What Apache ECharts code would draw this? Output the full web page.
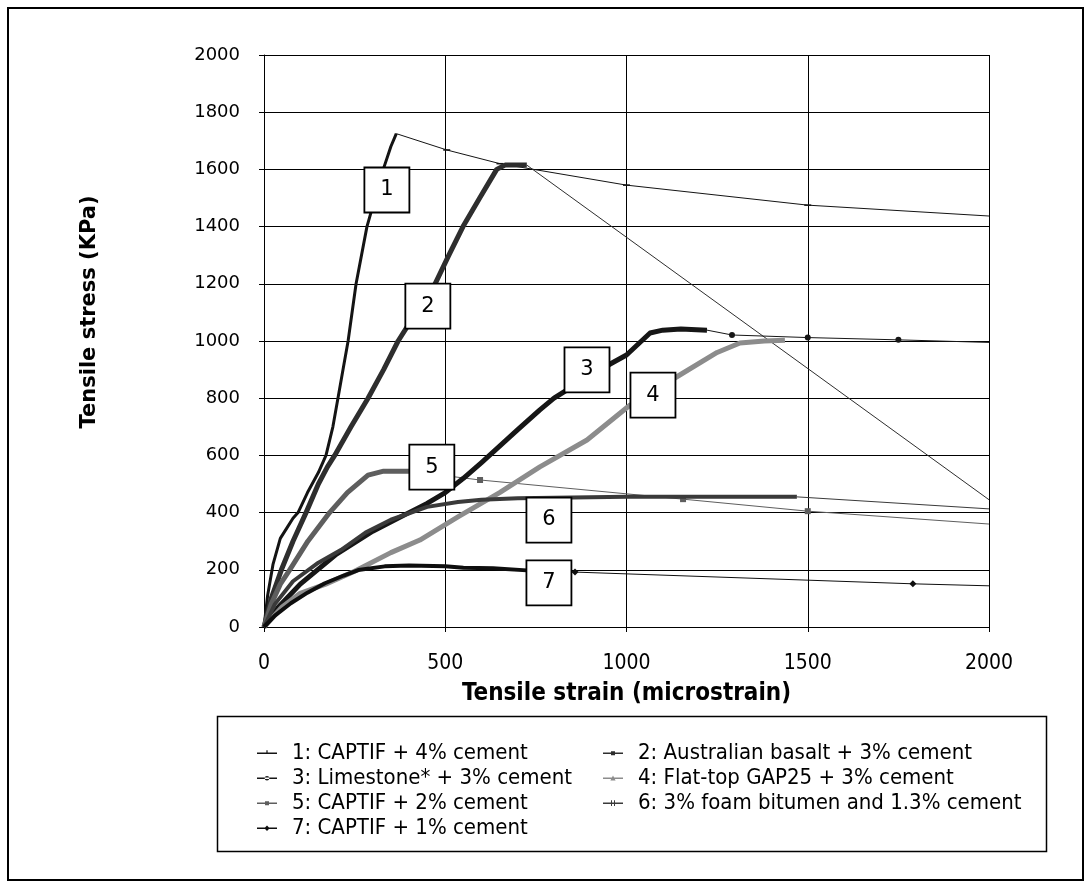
<!DOCTYPE html>
<html>
<head>
<meta charset="utf-8">
<script src="https://cdn.jsdelivr.net/npm/echarts@6/dist/echarts.min.js"></script>
<style>
  html, body { margin: 0; padding: 0; background: #fff; }
  #chart { width: 1090px; height: 887px; }
</style>
</head>
<body>
<div id="chart"></div>
<script>
// Tensile stress-strain curves of stabilised basecourse mixes.
// Each mix: the densely logged loading part and the sparse post-peak part.

const seriesNames = [
  '1: CAPTIF + 4% cement',
  '2: Australian basalt + 3% cement',
  '3: Limestone* + 3% cement',
  '4: Flat-top GAP25 + 3% cement',
  '5: CAPTIF + 2% cement',
  '6: 3% foam bitumen and 1.3% cement',
  '7: CAPTIF + 1% cement'
];
const xTitle = 'Tensile strain (microstrain)';
const yTitle = 'Tensile stress (KPa)';

// [strain (microstrain), stress (kPa)]
const load1 = [[0,0],[10,110],[25,220],[45,310],[65,350],[80,380],[94,400],[120,470],[150,540],[171,600],[190,700],[204,800],[218,900],[232,1000],[254,1200],[284,1400],[329,1600],[350,1680],[365,1725]];
const post1 = [[365,1725],[504,1668],[651,1620],[1000,1545],[1500,1475],[2000,1437]];

const load2 = [[0,0],[20,100],[48,200],[80,300],[116,400],[150,500],[175,560],[195,600],[240,700],[287,800],[330,900],[370,1000],[420,1100],[472,1200],[510,1300],[549,1400],[595,1500],[642,1600],[665,1615],[725,1615]];
const post2 = [[725,1615],[2000,445]];

const load3 = [[0,0],[40,70],[100,150],[200,255],[300,335],[400,400],[450,432],[500,470],[550,520],[600,575],[700,690],[761,759],[800,800],[900,880],[960,923],[1000,951],[1065,1028],[1100,1038],[1150,1042],[1222,1038]];
const post3 = [[1222,1038],[1291,1021],[1500,1012],[1750,1004],[2000,995]];

const load4 = [[0,0],[50,70],[100,118],[170,150],[250,195],[350,260],[430,304],[535,385],[650,470],[761,560],[891,654],[1010,776],[1139,875],[1250,960],[1313,993],[1380,1000],[1437,1003]];

const load5 = [[0,0],[20,80],[45,150],[71,200],[121,300],[181,400],[230,470],[287,531],[330,545],[400,545],[430,540]];
const post5 = [[430,540],[596,514],[1156,447],[1500,405],[2000,360]];

const load6 = [[0,0],[30,80],[80,160],[150,225],[213,270],[280,330],[350,375],[450,420],[535,437],[600,445],[700,450],[1000,455],[1200,455],[1470,455]];
const post6 = [[1470,455],[2000,413]];

const load7 = [[0,0],[30,40],[74,83],[120,120],[168,153],[220,180],[260,199],[333,212],[400,215],[500,212],[550,207],[632,205],[725,198]];
const post7 = [[725,198],[858,192],[1790,151],[2000,144]];

// Numbered callouts placed beside each curve
const calloutNumbers = ['1','2','3','4','5','6','7'];
const calloutAt = [[339,1528],[452,1122],[891,899],[1073,811],[463,559],[786,374],[786,154]];

const xTicks = { min: 0, max: 2000, interval: 500 };
const yTicks = { min: 0, max: 2000, interval: 200 };

const colors = ['#141414','#2e2e2e','#161616','#8c8c8c','#5e5e5e','#3a3a3a','#0e0e0e'];
const loadWidths = [3, 5, 5, 5, 5, 4, 4];
const tailMarkers = [['rect',[7,1.5]], ['rect',5], ['circle',6], ['triangle',6], ['rect',6], ['none',0], ['diamond',7]];

// Legend keys: a short line with the series marker, drawn in a 20x6 box
const keyLine = 'M0,2.5H20V4H0Z M0,0L0,6 ';
const legendKeys = [
  'path://' + keyLine + 'M9.4,0.3H10.6V2.5H9.4Z',
  'path://' + keyLine + 'M8,1.2H12V5.2H8Z',
  'path://' + keyLine + 'M7.7,3.2A2.3,2.3 0 1 0 12.3,3.2A2.3,2.3 0 1 0 7.7,3.2Z',
  'path://' + keyLine + 'M10,0.6L12.6,5.6H7.4Z',
  'path://' + keyLine + 'M8,1.2H12V5.2H8Z',
  'path://' + keyLine + 'M8,0.3H9V6H8Z M11,0.3H12V6H11Z',
  'path://' + keyLine + 'M10,0.5L12.7,3.2L10,6L7.3,3.2Z'
];

const loads = [load1, load2, load3, load4, load5, load6, load7];
const posts = [post1, post2, post3, null, post5, post6, post7];

const narrow = '"DejaVu Sans Condensed", "Liberation Sans Narrow", sans-serif';
const wide = '"DejaVu Sans", Verdana, sans-serif';

const series = [];
loads.forEach((pts, i) => {
  series.push({
    name: seriesNames[i],
    type: 'line',
    data: pts,
    showSymbol: false,
    symbol: 'none',
    lineStyle: { color: colors[i], width: loadWidths[i], join: 'round' },
    itemStyle: { color: colors[i] },
    z: 3
  });
  if (posts[i]) {
    const last = posts[i].length - 1;
    const [shape, size] = tailMarkers[i];
    series.push({
      name: seriesNames[i],
      type: 'line',
      data: posts[i].map((p, k) => ({
        value: p,
        symbol: (k === 0 || k === last || shape === 'none') ? 'none' : shape
      })),
      symbolSize: size,
      showSymbol: true,
      lineStyle: { color: colors[i], width: 1 },
      itemStyle: { color: colors[i] },
      z: 2
    });
  }
});

series.push({
  type: 'scatter',
  data: calloutAt.map((c, i) => [c[0], c[1], calloutNumbers[i]]),
  symbol: 'rect',
  symbolSize: [45, 45],
  itemStyle: { color: '#fff', borderColor: '#000', borderWidth: 1.8, opacity: 1 },
  label: {
    show: true, position: 'inside', formatter: p => p.value[2],
    color: '#000', fontSize: 21, fontFamily: wide
  },
  silent: true,
  z: 10
});

const legendText = { fontSize: 22, color: '#000', fontFamily: narrow, lineHeight: 22, padding: [0, 0, 0, 10] };
const legendItems = idx => idx.map(i => ({
  name: seriesNames[i],
  icon: legendKeys[i],
  itemStyle: { color: colors[i], borderWidth: 0 }
}));

const chart = echarts.init(document.getElementById('chart'), null, { renderer: 'canvas' });
chart.setOption({
  animation: false,
  backgroundColor: '#fff',
  grid: { left: 264, right: 101, top: 55, bottom: 260, containLabel: false },
  xAxis: {
    type: 'value', min: xTicks.min, max: xTicks.max, interval: xTicks.interval,
    name: xTitle, nameLocation: 'middle', nameGap: 55,
    nameTextStyle: { fontSize: 24, fontWeight: 'bold', color: '#000', fontFamily: narrow },
    axisLine: { show: true, lineStyle: { color: '#000', width: 1 } },
    axisTick: { show: true, inside: false, length: 5, lineStyle: { color: '#000' } },
    axisLabel: { margin: 26, fontSize: 21, color: '#000', fontFamily: narrow, formatter: v => String(v) },
    splitLine: { show: true, lineStyle: { color: '#000', width: 1 } }
  },
  yAxis: {
    type: 'value', min: yTicks.min, max: yTicks.max, interval: yTicks.interval,
    axisLine: { show: true, lineStyle: { color: '#000', width: 1 } },
    axisTick: { show: true, inside: false, length: 5, lineStyle: { color: '#000' } },
    axisLabel: { margin: 24, fontSize: 18, color: '#000', fontFamily: wide, formatter: v => String(v) },
    splitLine: { show: true, lineStyle: { color: '#000', width: 1 } }
  },
  legend: [
    {
      orient: 'vertical', left: 252, top: 737, itemGap: 3, itemWidth: 20, itemHeight: 6,
      data: legendItems([0, 2, 4, 6]),
      textStyle: legendText, selectedMode: false
    },
    {
      orient: 'vertical', left: 598, top: 737, itemGap: 3, itemWidth: 20, itemHeight: 6,
      data: legendItems([1, 3, 5]),
      textStyle: legendText, selectedMode: false
    }
  ],
  graphic: [
    { type: 'rect', shape: { x: 8, y: 8, width: 1075, height: 872 }, style: { fill: 'none', stroke: '#000', lineWidth: 2 }, silent: true },
    { type: 'rect', shape: { x: 217.5, y: 716.5, width: 829, height: 135 }, style: { fill: 'none', stroke: '#000', lineWidth: 1.5 }, silent: true },
    {
      type: 'text', x: 90, y: 312, rotation: Math.PI / 2, silent: true,
      style: { text: yTitle, font: 'bold 21px "DejaVu Sans", Verdana, sans-serif', fill: '#000', textAlign: 'center', textVerticalAlign: 'middle' }
    }
  ],
  series: series
});
</script>
</body>
</html>
